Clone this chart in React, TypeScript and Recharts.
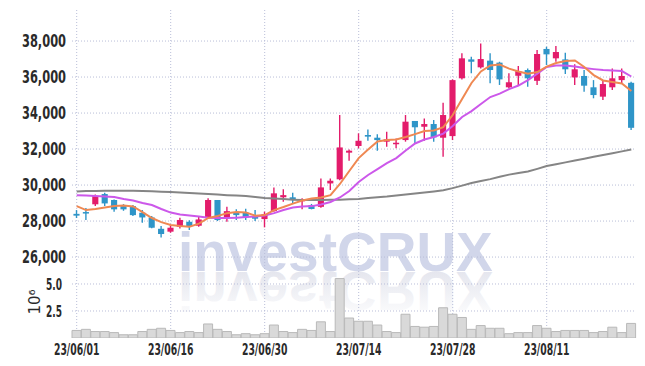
import React from "react";
import {
  ComposedChart,
  BarChart,
  Bar,
  Line,
  XAxis,
  YAxis,
  ReferenceLine,
  ReferenceArea
} from "recharts";

// trading days, 2023-06-01 .. 2023-08-25
const dates = [
  "23/06/01", "23/06/02", "23/06/05", "23/06/07", "23/06/08", "23/06/09", "23/06/12", "23/06/13", "23/06/14", "23/06/15",
  "23/06/16", "23/06/19", "23/06/20", "23/06/21", "23/06/22", "23/06/23", "23/06/26", "23/06/27", "23/06/28", "23/06/29",
  "23/06/30", "23/07/03", "23/07/04", "23/07/05", "23/07/06", "23/07/07", "23/07/10", "23/07/11", "23/07/12", "23/07/13",
  "23/07/14", "23/07/17", "23/07/18", "23/07/19", "23/07/20", "23/07/21", "23/07/24", "23/07/25", "23/07/26", "23/07/27",
  "23/07/28", "23/07/31", "23/08/01", "23/08/02", "23/08/03", "23/08/04", "23/08/07", "23/08/08", "23/08/09", "23/08/10",
  "23/08/11", "23/08/14", "23/08/16", "23/08/17", "23/08/18", "23/08/21", "23/08/22", "23/08/23", "23/08/24", "23/08/25"
];

const openPrices = [
  28400, 28500, 28930, 29500, 29170, 28830, 28830, 28460, 28200, 27570,
  27410, 27680, 27960, 27740, 28210, 29170, 28180, 28480, 28460, 28280,
  28110, 28550, 29320, 29320, 29170, 28890, 28790, 30090, 30320, 31800,
  32170, 32780, 32630, 32410, 32300, 32500, 33560, 33240, 33390, 32630,
  32720, 35930, 36980, 36540, 36910, 36800, 35430, 36070, 36390, 35790,
  37560, 37040, 36980, 35980, 36060, 35430, 34910, 35430, 35830, 35680
];

const highPrices = [
  28610, 28720, 29480, 29570, 29200, 28940, 28890, 28610, 28280, 27720,
  27780, 28180, 28050, 28240, 29260, 29170, 28790, 28650, 28680, 28610,
  28520, 29870, 29760, 29570, 29260, 28950, 30370, 30370, 33890, 31980,
  32870, 33090, 32820, 32960, 32590, 33890, 33560, 33700, 33610, 34570,
  35870, 37320, 37130, 37870, 37320, 36850, 36210, 36610, 36480, 37500,
  37680, 37720, 37350, 36710, 36390, 35830, 35830, 36480, 36480, 35740
];

const lowPrices = [
  28170, 28060, 28830, 28830, 28520, 28570, 28280, 27900, 27600, 27090,
  27350, 27590, 27500, 27680, 28150, 28000, 27960, 28060, 28060, 28000,
  27650, 28520, 29070, 28980, 28650, 28650, 28740, 29720, 30260, 31350,
  32040, 32460, 31910, 32130, 32040, 32410, 32320, 32460, 32410, 31570,
  32500, 35870, 36210, 36480, 35650, 35560, 35370, 35560, 35460, 35560,
  36670, 36850, 36170, 35560, 35180, 34820, 34720, 35280, 35650, 33060
];

const closePrices = [
  28300, 28430, 29390, 28980, 28650, 28650, 28330, 28200, 27630, 27280,
  27630, 28060, 27720, 28090, 29170, 28060, 28550, 28330, 28210, 28130,
  28370, 29540, 29440, 29170, 29180, 28670, 29870, 30240, 32090, 31910,
  32460, 32690, 32500, 32540, 32350, 33520, 33210, 33390, 32650, 33890,
  35830, 37040, 36850, 37000, 36390, 35870, 35710, 36330, 35930, 37280,
  37260, 37390, 36430, 36430, 35520, 35000, 35610, 35930, 36060, 33180
];

// moving averages
const ma5 = [
  28830, 28610, 28670, 28750, 28830, 28860, 28810, 28500, 28170, 27940,
  27780, 27720, 27690, 27860, 28170, 28280, 28440, 28500, 28480, 28300,
  28330, 28610, 28780, 28970, 29140, 29250, 29310, 29440, 30060, 30780,
  31500, 31970, 32420, 32500, 32530, 32670, 32830, 33000, 33030, 33220,
  33890, 34780, 35670, 36310, 36640, 36690, 36470, 36310, 36190, 36280,
  36580, 36780, 36890, 36920, 36560, 36110, 35810, 35720, 35640, 35220
];

const ma20 = [
  29440, 29420, 29390, 29360, 29330, 29220, 29140, 29000, 28890, 28670,
  28470, 28360, 28310, 28250, 28190, 28170, 28170, 28190, 28220, 28250,
  28310, 28440, 28610, 28750, 28810, 28830, 28920, 29060, 29310, 29670,
  30170, 30560, 30890, 31220, 31500, 31920, 32310, 32530, 32670, 32860,
  33280, 33780, 34110, 34500, 34890, 35080, 35330, 35530, 35830, 36190,
  36560, 36640, 36640, 36580, 36500, 36440, 36390, 36360, 36330, 36030
];

const ma120 = [
  29640, 29670, 29670, 29680, 29680, 29680, 29680, 29670, 29650, 29630,
  29610, 29580, 29560, 29530, 29500, 29470, 29440, 29420, 29390, 29330,
  29280, 29250, 29220, 29190, 29170, 29170, 29170, 29180, 29190, 29210,
  29230, 29280, 29320, 29360, 29420, 29470, 29530, 29580, 29640, 29710,
  29830, 29970, 30110, 30220, 30330, 30460, 30580, 30670, 30750, 30900,
  31060, 31160, 31260, 31360, 31460, 31570, 31670, 31770, 31870, 31970
];

// volume in millions of shares
const volumes = [
  0.7, 0.8, 0.6, 0.6, 0.5, 0.3, 0.3, 0.6, 0.8, 0.9,
  0.7, 0.5, 0.6, 0.5, 1.3, 0.8, 0.6, 0.3, 0.4, 0.3,
  0.4, 1.2, 0.6, 0.5, 0.8, 0.7, 1.5, 0.6, 5.5, 1.85,
  1.55, 1.55, 1.2, 0.6, 0.5, 2.2, 1.07, 1.0, 1.07, 2.8,
  2.2, 1.9, 0.8, 1.15, 0.9, 0.9, 0.4, 0.5, 0.5, 1.15,
  0.9, 0.6, 0.7, 0.7, 0.7, 0.5, 0.6, 1.0, 0.5, 1.35
];

const tickDates = ["23/06/01", "23/06/16", "23/06/30", "23/07/14", "23/07/28", "23/08/11"];
const priceTicks = [26000, 28000, 30000, 32000, 34000, 36000, 38000];
const volumeTicks = [2.5, 5.0];

const UP = "#e31c6b";
const DOWN = "#2f95c8";
const GRID = "#b9bed8";
const FRAME = "#cfcfcf";
const TICK_FONT = "'DejaVu Sans', sans-serif";
const TEXT = "#2a2a2a";

const data = dates.map((d, i) => ({
  date: d,
  open: openPrices[i],
  close: closePrices[i],
  high: highPrices[i],
  low: lowPrices[i],
  range: [lowPrices[i], highPrices[i]],
  ma5: ma5[i],
  ma20: ma20[i],
  ma120: ma120[i],
  volume: volumes[i]
}));

// draws wick + body inside the low..high bar that recharts lays out
const Candle = (props: any) => {
  const {x, y, width, height, payload} = props;
  if (!payload) return null;
  const {open, close, high, low} = payload;
  const top = height < 0 ? y + height : y;
  const h = Math.abs(height);
  const color = close >= open ? UP : DOWN;
  const pxPer = h / (high - low || 1);
  const bodyTop = top + (high - Math.max(open, close)) * pxPer;
  const bodyH = Math.max(Math.abs(close - open) * pxPer, 1.5);
  const cx = x + width / 2;
  const bw = width * 0.68;
  return (
    <g>
      <line x1={cx} x2={cx} y1={top} y2={top + h} stroke={color} strokeWidth={1.4} />
      <rect x={cx - bw / 2} y={bodyTop} width={bw} height={bodyH} fill={color} />
    </g>
  );
};

// narrow tick text: squeeze glyphs so labels are as condensed as the original
const narrowWidth = (s: string, digit: number) =>
  s.split("").reduce((w, ch) => w + (/[0-9]/.test(ch) ? digit : digit * 0.5), 0);

const PriceTick = ({x, y, payload}: any) => {
  const s = Number(payload.value).toLocaleString("en-US");
  return (
    <text x={x} y={y} dy="0.355em" textAnchor="end" fontSize={17} fontWeight={700} fontFamily={TICK_FONT} fill={TEXT}
      textLength={narrowWidth(s, 8)} lengthAdjust="spacingAndGlyphs">
      {s}
    </text>
  );
};

const VolumeTick = ({x, y, payload}: any) => {
  const s = Number(payload.value).toFixed(1);
  return (
    <text x={x} y={y} dy="0.355em" textAnchor="end" fontSize={16} fontWeight={700} fontFamily={TICK_FONT} fill={TEXT}
      textLength={narrowWidth(s, 6.4)} lengthAdjust="spacingAndGlyphs">
      {s}
    </text>
  );
};

const DateTick = ({x, y, payload}: any) => {
  const s = String(payload.value);
  return (
    <text x={x} y={y} dy="0.71em" textAnchor="middle" fontSize={16.5} fontWeight={700} fontFamily={TICK_FONT} fill={TEXT}
      textLength={narrowWidth(s, 6.5)} lengthAdjust="spacingAndGlyphs">
      {s}
    </text>
  );
};

const VolumeUnit = ({viewBox}: any) => {
  if (!viewBox) return null;
  const cx = viewBox.x + 35;
  const cy = viewBox.y + viewBox.height / 2 - 3;
  return (
    <text x={cx} y={cy} transform={`rotate(-90 ${cx} ${cy})`} textAnchor="middle" dy="0.355em"
      fontSize={15} fontFamily={TICK_FONT} fill={TEXT}>
      10{"\u2076"}
    </text>
  );
};

// dotted grid lines, kept under the series where the library allows it
const gridProps = {stroke: GRID, strokeDasharray: "1 2", zIndex: 250} as any;

export default function App() {
  return (
    <div style={{position: "absolute", left: 0, top: 0, width: 645, height: 366, background: "#fff", overflow: "hidden"}}>
      {/* watermark */}
      <svg width={645} height={366} style={{position: "absolute", left: 0, top: 0}}>
        <defs>
          <linearGradient id="fade" x1="0" y1="0" x2="0" y2="1">
            <stop offset="0%" stopColor="#ffffff" />
            <stop offset="100%" stopColor="#dfe0ea" />
          </linearGradient>
        </defs>
        <text x={178} y={271} fontSize={55} fontWeight="bold" fontFamily="'Liberation Sans', Arial, sans-serif" fill="#d1d6ea">
          investCRUX
        </text>
        <g transform="translate(0,543) scale(1,-1)">
          <text x={178} y={271} fontSize={55} fontWeight="bold" fontFamily="'Liberation Sans', Arial, sans-serif" fill="url(#fade)">
            investCRUX
          </text>
        </g>
      </svg>

      {/* price panel */}
      <div style={{position: "absolute", left: 0, top: 0}}>
        <ComposedChart width={645} height={272} data={data} margin={{top: 9, right: 9, left: 0, bottom: 0}} barCategoryGap={0}>
          <XAxis dataKey="date" hide />
          <YAxis
            width={72}
            domain={[25170, 39780]}
            allowDataOverflow
            ticks={priceTicks}
            axisLine={false}
            tickLine={false}
            tickSize={0}
            tickMargin={6}
            tick={<PriceTick />}
          />
          {priceTicks.map((p) => (
            <ReferenceLine key={`h${p}`} y={p} {...gridProps} />
          ))}
          {tickDates.map((d) => (
            <ReferenceLine key={`v${d}`} x={d} {...gridProps} />
          ))}
          <ReferenceArea fill="none" stroke={FRAME} strokeWidth={1.2} ifOverflow="visible" />
          <Line type="linear" dataKey="ma120" stroke="#858585" strokeWidth={2} dot={false} isAnimationActive={false} />
          <Bar dataKey="range" shape={<Candle />} isAnimationActive={false} />
          <Line type="linear" dataKey="ma20" stroke="#cc58ea" strokeWidth={2} dot={false} isAnimationActive={false} />
          <Line type="linear" dataKey="ma5" stroke="#ef8852" strokeWidth={2} dot={false} isAnimationActive={false} />
        </ComposedChart>
      </div>

      {/* volume panel */}
      <div style={{position: "absolute", left: 0, top: 271}}>
        <BarChart width={645} height={95} data={data} margin={{top: 1, right: 9, left: 0, bottom: 0}} barCategoryGap={0}>
          <XAxis
            dataKey="date"
            interval={9}
            height={28}
            axisLine={false}
            tickLine={false}
            tickSize={0}
            tickMargin={5}
            tick={<DateTick />}
          />
          <YAxis
            width={72}
            domain={[0, 6.11]}
            allowDataOverflow
            ticks={volumeTicks}
            axisLine={false}
            tickLine={false}
            tickSize={0}
            tickMargin={10}
            tick={<VolumeTick />}
            label={<VolumeUnit />}
          />
          {volumeTicks.map((v) => (
            <ReferenceLine key={`h${v}`} y={v} {...gridProps} />
          ))}
          {tickDates.map((d) => (
            <ReferenceLine key={`v${d}`} x={d} {...gridProps} />
          ))}
          <Bar dataKey="volume" fill="#d9d9d9" stroke="#b9b9b9" strokeWidth={1} isAnimationActive={false} />
          <ReferenceArea fill="none" stroke={FRAME} strokeWidth={1.2} ifOverflow="visible" />
        </BarChart>
      </div>
    </div>
  );
}
